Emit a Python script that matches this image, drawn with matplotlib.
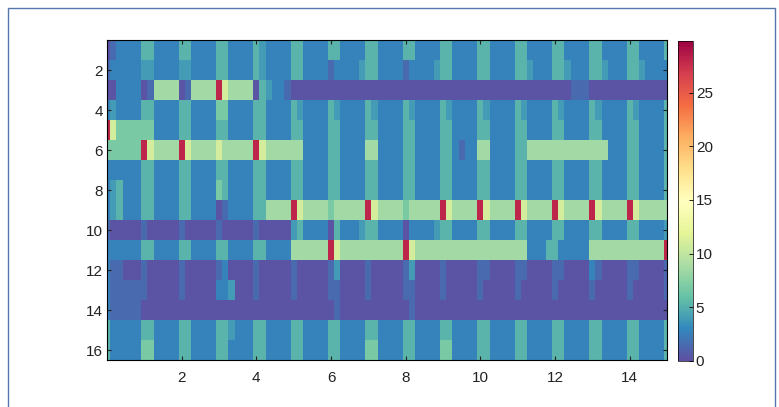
import numpy as np
import matplotlib
matplotlib.use('Agg')
import matplotlib.pyplot as plt
from matplotlib.patches import Rectangle

# one string per row (row 1 at top), 6 cells per beat, beats 0..14 + last cell at 15
# digit = colour level, mapped through levels below
levels = [0.3, 1.5, 2.7, 4.0, 5.3, 6.8, 8.5, 11.0, 16.0, 28.0]

row1 = "012222 442222 442222 442222 432222 442222 442222 442222 442222 442222 442222 442222 442222 442222 442222 4"
row2 = "122222 332222 332222 442222 432222 442222 122223 442222 122223 442222 442222 443222 443222 443222 443222 2"
row3 = "002222 016666 016666 976666 043221 000000 000000 000000 000000 000000 000000 000000 000111 000000 000000 0"
row4 = "232222 442222 442222 552222 442222 432222 432222 432222 432222 432222 432222 432222 432222 432222 432222 4"
row5 = "975555 552222 442222 442222 442222 442222 442222 442222 442222 442222 442222 442222 442222 442222 442222 4"
row6 = "555555 976666 976666 766666 976666 662222 442222 662222 442222 442122 662222 446666 666666 666222 442222 4"
row7 = "222222 442222 442222 442222 442222 442222 442222 442222 442222 442222 442222 442222 442222 442222 442222 4"
row8 = "234222 442222 442222 542222 442222 442222 442222 442222 442222 442222 442222 442222 442222 442222 442222 4"
row9 = "234222 442222 442222 012222 446666 976666 566666 976666 566666 976666 976666 976666 976666 976666 976666 6"
row10 = "100000 100000 100000 100000 100000 342222 042223 442222 022223 442222 442222 442222 442222 442222 442222 3"
row11 = "222222 442222 442222 442222 442222 666666 976666 666666 976666 666666 666666 662224 422222 666666 666666 9"
row12 = "211000 100000 100000 120000 100000 100000 130000 100000 130000 100000 110000 110000 110000 210000 110000 1"
row13 = "211111 100000 100000 223000 100000 100000 110000 100000 110000 100000 100000 100000 100000 100000 100000 1"
row14 = "211111 000000 000000 000000 000000 000000 010000 000000 010000 000000 000000 000000 000000 000000 000000 0"
row15 = "422222 442222 442222 443222 442222 442222 442222 442222 442222 442222 442222 442222 442222 442222 442222 4"
row16 = "422222 552222 442222 442222 442222 442222 442222 552222 442222 552222 442222 442222 442222 442222 442222 4"

rows = [row1, row2, row3, row4, row5, row6, row7, row8,
        row9, row10, row11, row12, row13, row14, row15, row16]

data = np.array([[levels[int(ch)] for ch in r.replace(" ", "")] for r in rows])
ncol = data.shape[1]

xedges = (np.arange(ncol + 1) - 0.5) / 6.0
yedges = np.arange(data.shape[0] + 1) + 0.5

plt.rcParams['font.family'] = ['Liberation Sans', 'DejaVu Sans']

fig = plt.figure(figsize=(7.79, 4.07), dpi=100)
fig.patch.set_facecolor('white')

# thin frame around the figure
fig.patches.append(Rectangle((8 / 779, -0.05), 767 / 779, 1 - 8 / 407 + 0.05,
                             transform=fig.transFigure, fill=False,
                             edgecolor='#5577aa', linewidth=1.0))

ax = fig.add_axes([107 / 779, 47 / 407, 560 / 779, 320 / 407])
mesh = ax.pcolormesh(xedges, yedges, data, cmap='Spectral_r', vmin=0, vmax=29.8)
ax.set_xlim(0, 15)
ax.set_ylim(16.5, 0.5)
ax.set_xticks([2, 4, 6, 8, 10, 12, 14])
ax.set_yticks([2, 4, 6, 8, 10, 12, 14, 16])
ax.tick_params(direction='in', top=True, right=True, length=3, width=0.8,
               labelsize=11, color='#222222', labelcolor='#222222')
ax.tick_params(axis='x', pad=8)
ax.tick_params(axis='y', pad=3)
for s in ax.spines.values():
    s.set_linewidth(0.8)

cax = fig.add_axes([678 / 779, 46 / 407, 15 / 779, 320 / 407])
cb = fig.colorbar(mesh, cax=cax)
cb.set_ticks([0, 5, 10, 15, 20, 25])
cb.ax.tick_params(direction='in', length=3, width=0.6, labelsize=11, pad=2,
                  labelcolor='#222222')
cb.outline.set_linewidth(0.5)

fig.savefig('out.png', dpi=100)
